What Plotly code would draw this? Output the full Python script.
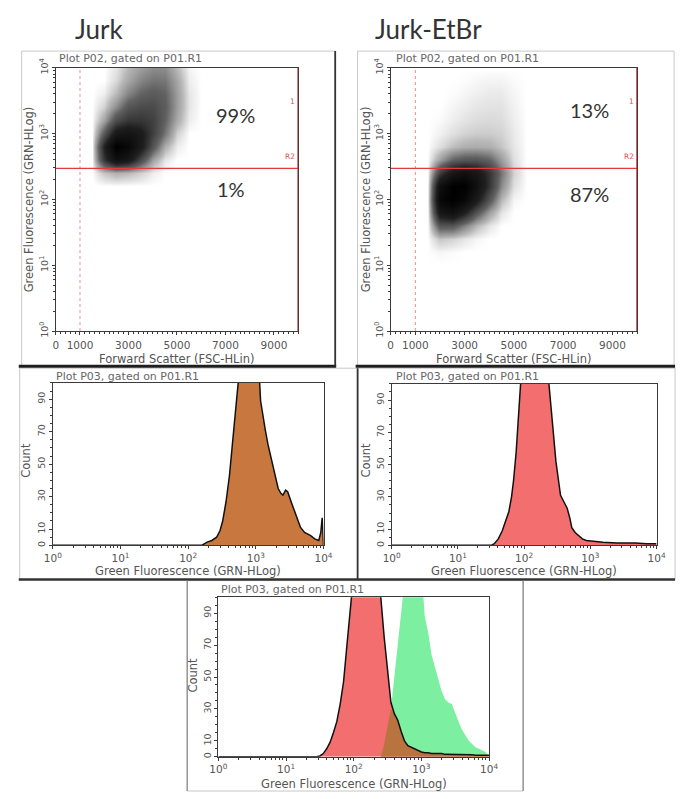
import plotly.graph_objects as go

W, H = 686, 799

# ---------------- data ----------------
panel_titles = ["Jurk", "Jurk-EtBr"]
quadrant_pct_jurk = ["99%", "1%"]
quadrant_pct_etbr = ["13%", "87%"]

fsc_tickvals = [0, 1000, 3000, 5000, 7000, 9000]
log_tickvals = [0, 1, 2, 3, 4]
count_tickvals = [0, 10, 30, 50, 70, 90]

gate_fsc = 1000          # dotted vertical gate
gate_grn_log = 2.47      # horizontal R2 gate (log10 GRN)

# estimated dot density (0-10) of the dot plots
fsc_bins = [1500, 2000, 2500, 3000, 3500, 4000, 4500, 5000, 5500, 6000]
jurk_log_bins = [2.2, 2.4, 2.6, 2.8, 3.0, 3.2, 3.4, 3.6, 3.8, 4.0, 4.2]
jurk_density = [
    [0, 0, 0, 0, 0, 0, 0, 0, 0, 0],
    [0, 0.8, 1.2, 1.0, 0.6, 0.2, 0, 0, 0, 0],
    [0, 5, 8, 7, 4, 1.5, 0.3, 0, 0, 0],
    [0, 6, 10, 9, 6.5, 3.5, 1.2, 0.2, 0, 0],
    [0, 3.5, 7, 7.5, 6.5, 4.5, 2.5, 0.6, 0, 0],
    [0, 1.5, 4, 5, 5, 4.5, 3, 1.3, 0.2, 0],
    [0, 0.6, 2, 3.5, 4, 4, 3.2, 1.6, 0.3, 0],
    [0, 0.2, 1, 2.2, 3, 3.3, 3, 1.6, 0.3, 0],
    [0, 0, 0.5, 1.4, 2.2, 2.6, 2.5, 1.4, 0.2, 0],
    [0, 0, 0.3, 1, 1.6, 2, 2, 1, 0.1, 0],
    [0, 0, 0.3, 1, 1.6, 2, 2, 1, 0.1, 0],
]
etbr_log_bins = [1.0, 1.2, 1.4, 1.6, 1.8, 2.0, 2.2, 2.4, 2.6, 2.8, 3.0, 3.2, 3.4, 3.6, 3.8, 4.0]
etbr_density = [
    [0, 0, 0, 0, 0, 0, 0, 0, 0, 0],
    [0, 0.1, 0.05, 0, 0, 0, 0, 0, 0, 0],
    [0, 0.8, 0.6, 0.3, 0.1, 0, 0, 0, 0, 0],
    [0, 3.5, 3.5, 2.2, 1, 0.3, 0, 0, 0, 0],
    [0, 7, 8, 6, 3.5, 1.5, 0.3, 0, 0, 0],
    [0, 9, 10, 9, 6.5, 3.5, 1, 0.1, 0, 0],
    [0, 8, 10, 10, 8, 5, 2, 0.4, 0, 0],
    [0, 4.5, 7, 8, 7, 5, 2.5, 0.6, 0, 0],
    [0, 1.5, 3, 3.5, 3.5, 3, 1.6, 0.4, 0, 0],
    [0, 0.4, 0.9, 1.2, 1.3, 1.2, 0.8, 0.3, 0, 0],
    [0, 0.15, 0.4, 0.6, 0.7, 0.7, 0.6, 0.25, 0, 0],
    [0, 0.05, 0.2, 0.35, 0.45, 0.5, 0.45, 0.2, 0, 0],
    [0, 0, 0.1, 0.2, 0.3, 0.35, 0.35, 0.15, 0, 0],
    [0, 0, 0.03, 0.1, 0.18, 0.25, 0.25, 0.1, 0, 0],
    [0, 0, 0, 0.03, 0.08, 0.12, 0.12, 0.05, 0, 0],
    [0, 0, 0, 0, 0, 0, 0, 0, 0, 0],
]

# histograms (log10 GRN, count)
jurk_hist_log = [0.0, 2.20, 2.28, 2.35, 2.42, 2.47, 2.51, 2.56, 2.61, 2.65, 2.68, 2.72, 2.75,
                 2.90, 3.05, 3.07, 3.10, 3.14, 3.18, 3.23, 3.28, 3.33, 3.37, 3.40, 3.44, 3.47,
                 3.52, 3.57, 3.62, 3.66, 3.72, 3.81, 3.87, 3.93, 3.96, 3.98, 4.0]
jurk_hist_count = [0, 0, 2, 3, 5, 9, 15, 27, 43, 60, 75, 92, 105,
                   120, 105, 89, 80, 71, 62, 53, 44, 35, 32, 31, 34, 33,
                   27, 21, 15, 11, 8, 6, 4, 3, 8, 17, 0]

etbr_hist_log = [0.0, 1.50, 1.55, 1.61, 1.67, 1.72, 1.77, 1.81, 1.84, 1.88, 1.91, 1.95, 2.15,
                 2.37, 2.41, 2.45, 2.48, 2.52, 2.55, 2.60, 2.65, 2.69, 2.72, 2.77, 2.82, 2.88,
                 2.94, 3.05, 3.19, 3.40, 3.68, 3.85, 4.0]
etbr_hist_count = [0, 0, 1, 4, 9, 15, 21, 30, 40, 58, 76, 102, 125,
                   102, 84, 66, 52, 40, 31, 27, 23, 17, 11, 8, 6, 4,
                   3, 2.5, 2, 1.5, 1.5, 1, 1]

overlay_log = [0.0, 1.40, 1.45, 1.50, 1.55, 1.60, 1.65, 1.70, 1.75, 1.80, 1.85, 1.90, 1.95,
               2.00, 2.05, 2.10, 2.15, 2.20, 2.25, 2.30, 2.35, 2.40, 2.45, 2.50, 2.55, 2.60,
               2.65, 2.70, 2.75, 2.80, 2.85, 2.90, 2.95, 3.00, 3.05, 3.10, 3.15, 3.20, 3.25,
               3.30, 3.35, 3.40, 3.45, 3.50, 3.55, 3.60, 3.65, 3.70, 3.75, 3.80, 3.85, 3.90,
               3.95, 4.00]
overlay_etbr = [0, 0, 0, 0.5, 2, 5, 9, 15, 22, 33, 47, 70, 100,
                115, 120, 125, 125, 125, 122, 120, 110, 100, 75, 53, 34, 27,
                23, 16, 10, 7, 6, 4.5, 3.5, 3, 2.5, 2.5, 2, 2, 2,
                2, 1.5, 1.5, 1.5, 1.5, 1.5, 1.5, 1.2, 1.2, 1.2, 1, 1, 1,
                1, 1]
overlay_jurk = [0, 0, 0, 0, 0, 0, 0, 0, 0, 0, 0, 0, 0,
                0, 0, 0, 0, 0, 0, 0, 0, 0, 8, 18, 30, 50,
                72, 92, 110, 120, 122, 122, 120, 118, 88, 78, 64, 56, 49,
                41, 36, 34, 33, 27, 22, 17, 13, 10, 8, 6, 5, 4,
                3, 0]

# ---------------- helpers ----------------
def dx(a, b):
    return [a / W, b / W]

def dy(top, bottom):
    return [1 - bottom / H, 1 - top / H]

def px(x):
    return x / W

def py(y):
    return 1 - y / H

TICKFONT = dict(family="DejaVu Sans", size=10.5, color="#555")
YTICKFONT = dict(family="DejaVu Sans", size=9.5, color="#555")
DARK = "#3a3a3a"
ORANGE = "#C8783F"
SALMON = "#F36E6E"
MINT = "#7DEFA1"
BROWN = "#B9733F"

sup = ["10<sup>%d</sup>" % v for v in log_tickvals]

fig = go.Figure()

density_scale = [
    [0.0, "rgba(0,0,0,0)"],
    [0.01, "rgba(0,0,0,0.04)"],
    [0.03, "rgba(0,0,0,0.10)"],
    [0.1, "rgba(0,0,0,0.28)"],
    [0.3, "rgba(0,0,0,0.62)"],
    [0.6, "rgba(0,0,0,0.88)"],
    [1.0, "rgba(0,0,0,1)"],
]

for i, (ybins, dens) in enumerate([(jurk_log_bins, jurk_density), (etbr_log_bins, etbr_density)]):
    ax = "" if i == 0 else "2"
    fig.add_trace(go.Heatmap(
        x=fsc_bins, y=[10 ** v for v in ybins], z=dens, zmin=0, zmax=10,
        zsmooth="best", colorscale=density_scale, showscale=False,
        hoverinfo="skip", xaxis="x" + ax, yaxis="y" + ax))

# single histograms
fig.add_trace(go.Scatter(
    x=[10 ** v for v in jurk_hist_log], y=jurk_hist_count, mode="lines",
    fill="tozeroy", fillcolor=ORANGE, line=dict(color="#111", width=1.5),
    xaxis="x3", yaxis="y3", hoverinfo="skip"))
fig.add_trace(go.Scatter(
    x=[10 ** v for v in etbr_hist_log], y=etbr_hist_count, mode="lines",
    fill="tozeroy", fillcolor=SALMON, line=dict(color="#111", width=1.5),
    xaxis="x4", yaxis="y4", hoverinfo="skip"))

# overlay histogram
ox = [10 ** v for v in overlay_log]
overlap = [min(a, b) for a, b in zip(overlay_etbr, overlay_jurk)]
fig.add_trace(go.Scatter(
    x=ox, y=overlay_jurk, mode="lines", fill="tozeroy", fillcolor=MINT,
    line=dict(width=0, color=MINT), xaxis="x5", yaxis="y5", hoverinfo="skip"))
fig.add_trace(go.Scatter(
    x=ox, y=overlay_etbr, mode="lines", fill="tozeroy", fillcolor=SALMON,
    line=dict(width=0, color=SALMON), xaxis="x5", yaxis="y5", hoverinfo="skip"))
fig.add_trace(go.Scatter(
    x=ox, y=overlap, mode="lines", fill="tozeroy", fillcolor=BROWN,
    line=dict(width=0, color=BROWN), xaxis="x5", yaxis="y5", hoverinfo="skip"))
fig.add_trace(go.Scatter(
    x=ox, y=overlay_etbr, mode="lines", line=dict(color="#111", width=1.5),
    xaxis="x5", yaxis="y5", hoverinfo="skip"))

# ---------------- axes ----------------
common = dict(showline=True, mirror=True, linecolor=DARK, linewidth=1,
              ticks="outside", ticklen=3, tickcolor=DARK, showgrid=False, zeroline=False)

def scatter_axes(xdom, ydom):
    xa = dict(domain=xdom, range=[0, 10000], tickvals=fsc_tickvals,
              ticktext=[str(v) for v in fsc_tickvals], tickfont=TICKFONT, ticklabelstandoff=1,
              minor=dict(dtick=200, ticks="outside", ticklen=2, tickcolor=DARK), **common)
    ya = dict(domain=ydom, type="log", range=[0, 4], tickvals=[10 ** v for v in log_tickvals],
              ticktext=sup, tickfont=YTICKFONT, tickangle=-90,
              minor=dict(ticks="outside", ticklen=2, tickcolor=DARK, dtick="D1"), **common)
    return xa, ya

def hist_axes(xdom, ydom):
    xa = dict(domain=xdom, type="log", range=[0, 4], tickvals=[10 ** v for v in log_tickvals],
              ticktext=sup, tickfont=TICKFONT, ticklabelstandoff=0,
              minor=dict(ticks="outside", ticklen=2, tickcolor=DARK, dtick="D1"), **common)
    ya = dict(domain=ydom, range=[0, 100], tickvals=count_tickvals,
              ticktext=[str(v) for v in count_tickvals], tickfont=YTICKFONT, tickangle=-90,
              minor=dict(dtick=5, ticks="outside", ticklen=2, tickcolor=DARK), **common)
    return xa, ya

x1, y1 = scatter_axes(dx(48, 297), dy(59, 328))
x2, y2 = scatter_axes(dx(392, 645), dy(59, 328))
x3, y3 = hist_axes(dx(45, 323), dy(381, 547))
x4, y4 = hist_axes(dx(393, 665), dy(382, 547))
x5, y5 = hist_axes(dx(215, 493), dy(600, 763))

for k, ax in zip(["", "2", "3", "4", "5"], [(x1, y1), (x2, y2), (x3, y3), (x4, y4), (x5, y5)]):
    xa, ya = ax
    xa["anchor"] = "y" + k
    ya["anchor"] = "x" + k
    fig.layout["xaxis" + k] = xa
    fig.layout["yaxis" + k] = ya

# ---------------- shapes ----------------
shapes = []
def frame(x0, y0, x1_, y1_, color="#c8c8c8", w=1):
    shapes.append(dict(type="rect", xref="paper", yref="paper", x0=px(x0), x1=px(x1_),
                       y0=py(y1_), y1=py(y0), line=dict(color=color, width=w), layer="below"))

def pline(x0, y0, x1_, y1_, color="#222", w=2.5):
    shapes.append(dict(type="line", xref="paper", yref="paper", x0=px(x0), x1=px(x1_),
                       y0=py(y0), y1=py(y1_), line=dict(color=color, width=w)))

frame(13, 42, 335, 364)
frame(358, 42, 683, 364)
frame(11, 366, 358, 582)
frame(358, 366, 684, 582)
frame(183, 583, 528, 798)
pline(10, 364, 336, 364, "#1e1e1e", 3)
pline(356, 364, 684, 364, "#1e1e1e", 3)
pline(335, 42, 335, 364, "#333", 1.8)
pline(10, 582, 684, 582, "#333", 2.5)
pline(358, 366, 358, 582, "#333", 1.8)
pline(183, 583, 183, 798, "#888", 1.2)
pline(528, 583, 528, 798, "#888", 1.2)

for k in ["", "2"]:
    shapes.append(dict(type="line", xref="x" + k, yref="y" + k + " domain", x0=gate_fsc, x1=gate_fsc,
                       y0=0, y1=1, line=dict(color="#F08A8A", width=1, dash="dot")))
    shapes.append(dict(type="line", xref="x" + k, yref="y" + k, x0=0, x1=10000,
                       y0=10 ** gate_grn_log, y1=10 ** gate_grn_log,
                       line=dict(color="#E03A3A", width=1.3)))
    shapes.append(dict(type="line", xref="x" + k, yref="y" + k + " domain", x0=10000, x1=10000,
                       y0=0, y1=1, line=dict(color="#C0282C", width=1.6)))
fig.layout.shapes = shapes

# ---------------- annotations ----------------
ann = []
def text(x, y, s, size=9, color="#555", family="DejaVu Sans", xanchor="left", yanchor="middle", angle=0):
    ann.append(dict(x=px(x), y=py(y), xref="paper", yref="paper", text=s, showarrow=False,
                    xanchor=xanchor, yanchor=yanchor, textangle=angle,
                    font=dict(size=size, color=color, family=family)))

text(66, 19, panel_titles[0], 26, "#333", "Lato")
text(374, 19, panel_titles[1], 26, "#333", "Lato")

text(233, 107, quadrant_pct_jurk[0], 20, "#333", "Lato", "center")
text(228, 183, quadrant_pct_jurk[1], 20, "#333", "Lato", "center")
text(596, 102, quadrant_pct_etbr[0], 20, "#333", "Lato", "center")
text(596, 188, quadrant_pct_etbr[1], 20, "#333", "Lato", "center")

for xr in [297, 645]:
    text(xr - 1, 150, "R2", 7.5, "#E05050", xanchor="right")
    text(xr - 1, 93, "1", 7.5, "#E05050", xanchor="right")

PL = 11
PLC = "#666"
text(49, 50, "Plot P02, gated on P01.R1", PL, PLC)
text(395, 50, "Plot P02, gated on P01.R1", PL, PLC)
text(46, 374, "Plot P03, gated on P01.R1", PL, PLC)
text(395, 374, "Plot P03, gated on P01.R1", PL, PLC)
text(216, 592, "Plot P03, gated on P01.R1", PL, PLC)

AT = 11.5
text(172, 357, "Forward Scatter (FSC-HLin)", AT, xanchor="center")
text(518, 357, "Forward Scatter (FSC-HLin)", AT, xanchor="center")
text(20, 193, "Green Fluorescence (GRN-HLog)", AT, xanchor="center", angle=-90)
text(366, 193, "Green Fluorescence (GRN-HLog)", AT, xanchor="center", angle=-90)

text(184, 573, "Green Fluorescence (GRN-HLog)", AT, xanchor="center")
text(529, 573, "Green Fluorescence (GRN-HLog)", AT, xanchor="center")
text(354, 791, "Green Fluorescence (GRN-HLog)", AT, xanchor="center")
text(18, 460, "Count", AT, xanchor="center", angle=-90)
text(367, 460, "Count", AT, xanchor="center", angle=-90)
text(188, 680, "Count", AT, xanchor="center", angle=-90)

fig.layout.annotations = ann

fig.update_layout(width=W, height=H, margin=dict(l=0, r=0, t=0, b=0),
                  paper_bgcolor="white", plot_bgcolor="white", showlegend=False)

fig.write_html("out.html", config={"displayModeBar": False},
               post_script="document.body.style.margin='0';document.body.style.overflow='hidden';")
